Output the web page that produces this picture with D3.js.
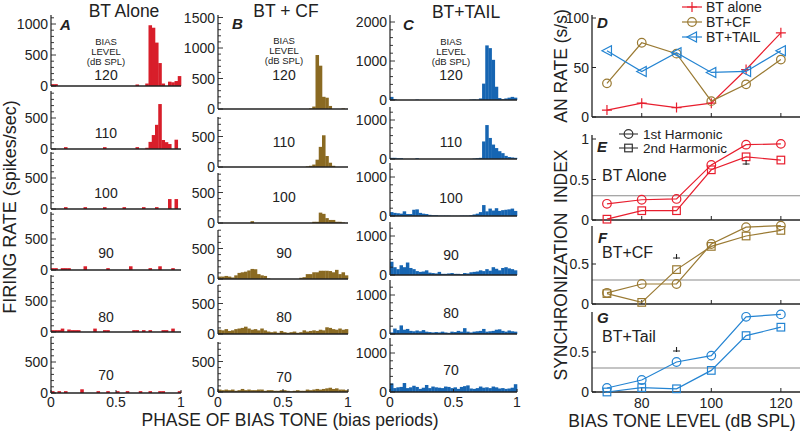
<!DOCTYPE html>
<html><head><meta charset="utf-8">
<script src="https://cdn.jsdelivr.net/npm/d3@7"></script>
<style>
body{margin:0;background:#fff}
svg{display:block}
text{font-family:"Liberation Sans",Arial,Helvetica,sans-serif;fill:#222}
</style>
</head><body>
<svg id="c" width="800" height="431"></svg>
<script>
// ---------------- DATA ----------------
const levels = [120, 110, 100, 90, 80, 70];
const phaseTicks = [0, 0.5, 1];
const phaseTickLabels = ["0", "0.5", "1"];

// Column A: BT alone (40 phase bins, spikes/sec)
const A120 = [30,30,0,0,0,0,0,0,0,0, 0,0,0,0,0,0,0,0,0,0, 0,0,0,0,0,0,25,0,0,40, 980,940,700,370,40,0,70,60,80,160];
const A110 = [0,0,0,0,30,0,0,0,0,0, 0,0,0,0,0,0,30,0,0,0, 0,0,0,0,0,0,30,0,0,20, 115,225,390,725,145,110,80,0,150,0];
const A100 = [0,0,0,0,30,0,0,0,0,0, 30,0,0,0,0,0,30,0,0,0, 0,0,30,0,0,0,0,0,30,0, 0,0,30,0,0,0,160,0,160,0];
const A90  = [30,30,0,30,30,30,0,0,0,0, 60,0,0,0,0,0,0,30,0,0, 0,0,0,0,60,0,0,0,0,0, 30,0,0,60,0,0,0,30,0,0];
const A80  = [30,30,30,55,0,40,30,30,30,0, 0,0,0,55,0,0,30,30,0,0, 0,0,0,0,0,30,30,0,30,0, 30,0,0,0,30,30,0,55,0,0];
const A70  = [30,0,30,0,30,0,0,0,0,60, 0,0,0,0,30,0,0,30,0,0, 30,0,0,30,0,0,0,30,0,0, 30,0,0,30,30,0,0,0,0,30];

// Column B: BT + CF
const B120 = [0,0,0,0,0,0,0,0,0,0, 0,0,0,0,0,0,0,0,0,0, 0,0,0,0,0,0,0,0,10,40, 885,710,200,185,50,0,0,0,10,0];
const B110 = [0,0,0,0,0,0,0,0,0,0, 0,0,0,0,0,0,0,0,0,0, 0,0,0,0,0,0,0,10,20,40, 120,330,520,180,70,20,0,0,0,0];
const B100 = [0,0,0,0,0,0,0,0,0,0, 30,0,0,0,0,0,0,0,0,0, 0,0,0,0,0,0,0,0,0,20, 20,170,150,80,50,50,20,20,10,0];
const B90  = [40,40,50,40,25,60,100,110,120,140, 165,160,80,60,50,10,0,0,0,0, 0,0,0,0,0,20,30,80,80,110, 110,135,135,135,130,110,150,80,110,60];
const B80  = [70,60,80,50,60,80,90,100,120,90, 70,80,60,90,60,40,30,40,20,50, 30,20,30,40,20,30,60,40,50,60, 50,70,60,110,100,80,70,90,70,80];
const B70  = [40,30,40,30,40,20,30,50,30,40, 30,30,40,40,20,30,30,20,20,30, 30,20,10,20,30,20,20,40,30,40, 50,40,50,60,70,50,60,40,40,30];

// Column C: BT + TAIL
const C120 = [80,20,0,0,0,0,0,0,10,0, 0,0,0,0,0,0,0,0,0,0, 0,0,0,0,0,10,15,10,40,420, 1400,1330,1030,340,50,20,40,60,80,60];
const C110 = [30,30,20,20,0,0,0,0,20,0, 0,0,0,0,0,0,0,0,0,0, 0,0,0,0,0,0,10,20,30,450, 870,540,370,280,200,150,80,50,40,30];
const C100 = [100,80,70,60,120,50,50,160,170,80, 60,50,30,20,20,10,10,10,10,5, 5,5,10,10,10,20,40,60,100,280, 120,190,140,200,130,150,160,170,190,130];
const C90  = [340,200,150,250,200,320,180,150,100,80, 90,120,60,50,40,80,30,30,40,50, 30,30,20,50,40,70,80,90,120,100, 150,110,200,160,120,180,200,170,150,120];
const C80  = [40,140,100,220,110,130,80,70,90,70, 100,60,50,40,50,40,60,40,30,60, 50,80,60,150,60,40,60,70,80,130, 60,70,80,110,120,80,60,90,70,60];
const C70  = [220,100,120,130,230,100,120,160,130,80, 110,180,100,140,120,110,100,140,130,100, 120,80,130,150,170,90,80,100,140,110, 120,100,140,120,90,100,80,90,110,200];

// Panel D: AN rate (s/s) vs bias tone level
const biasLevels = [70, 80, 90, 100, 110, 120];
const rateBTalone = [7, 14, 9.5, 14, 48, 85];
const rateBTCF    = [34, 75, 64, 16, 33, 58];
const rateBTTail  = [67, 46, 65, 45, 46, 67];

// Panels E-G: synchronization index
const syncE1 = [0.20, 0.25, 0.26, 0.68, 0.93, 0.94];
const syncE2 = [0.01, 0.115, 0.115, 0.62, 0.78, 0.74];
const syncF1 = [0.14, 0.25, 0.25, 0.75, 0.96, 0.98];
const syncF2 = [0.13, 0.02, 0.43, 0.72, 0.85, 0.92];
const syncG1 = [0.05, 0.15, 0.375, 0.455, 0.94, 0.97];
const syncG2 = [0.0, 0.055, 0.04, 0.27, 0.705, 0.81];
const syncThreshold = 0.3;

// ---------------- DRAW ----------------
const svg = d3.select("#c");
const AX = "#222";

const cols = [
  {x0:51, x1:181, k:31/500, minor:100, labels:[0,500,1000,1500],
   bases:[86,149,209,270,332,393], tops:[15,91,152,212,275,337],
   data:[A120,A110,A100,A90,A80,A70], color:"#d81e2a",
   title:"BT Alone", titleX:124, titleY:17, letter:"A", letterX:60, letterY:30,
   levelX:106, levelY:[80,138,198,258,322,380], biasY:[45,55,65]},
  {x0:218, x1:348, k:30.5/500, minor:100, labels:[0,500,1000,1500],
   bases:[109,167,223,279,334,392], tops:[15,117,173,230,285,342],
   data:[B120,B110,B100,B90,B80,B70], color:"#8a6a22",
   title:"BT + CF", titleX:286, titleY:17, letter:"B", letterX:232, letterY:29,
   levelX:284, levelY:[80,147,202,258,322,382], biasY:[44,54,64]},
  {x0:390, x1:517, k:39/1000, minor:200, labels:[0,1000,2000],
   bases:[100,159,216,275,334,392], tops:[15,107,163,222,280,338],
   data:[C120,C110,C100,C90,C80,C70], color:"#1665b2",
   title:"BT+TAIL", titleX:466, titleY:18, letter:"C", letterX:403, letterY:30,
   levelX:451, levelY:[80,147,203,260,318,375], biasY:[45,55,65]}
];

cols.forEach(col => {
  const x = d3.scaleLinear().domain([0,1]).range([col.x0, col.x1]);
  levels.forEach((lev, r) => {
    const b = col.bases[r], t = col.tops[r];
    const ymax = (b - t) / col.k;
    const y = d3.scaleLinear().domain([0, ymax]).range([b, t]);
    const vals = col.data[r];
    const n = vals.length;
    const g = svg.append("g");
    g.selectAll("rect").data(vals).join("rect")
      .attr("x", (d,i) => x(i/n))
      .attr("width", (d,i) => x((i+1)/n) - x(i/n) + 0.3)
      .attr("y", d => y(d))
      .attr("height", d => Math.max(0, y(0) - y(d)))
      .attr("fill", col.color);
    g.append("line").attr("x1", col.x0).attr("x2", col.x1)
      .attr("y1", b).attr("y2", b).attr("stroke", AX).attr("stroke-width", 1.3);
    g.append("line").attr("x1", col.x0).attr("x2", col.x0)
      .attr("y1", b).attr("y2", t).attr("stroke", AX).attr("stroke-width", 1.2);
    const tv = d3.range(0, ymax + 1e-6, col.minor);
    g.selectAll("line.tk").data(tv).join("line").attr("class","tk")
      .attr("x1", col.x0).attr("x2", d => col.x0 + (col.labels.includes(d) ? 5 : 3))
      .attr("y1", d => y(d)).attr("y2", d => y(d))
      .attr("stroke", AX).attr("stroke-width", 0.9);
    g.selectAll("text.tl").data(col.labels.filter(v => v <= ymax)).join("text").attr("class","tl")
      .attr("x", col.x0 - 3).attr("y", d => y(d)).attr("dy", "0.36em")
      .attr("text-anchor", "end").attr("font-size", 14).text(d => d);
    g.append("text").attr("x", col.levelX).attr("y", col.levelY[r])
      .attr("text-anchor", "middle").attr("font-size", 14).text(lev);
    if (r === levels.length - 1) {
      g.selectAll("line.xt").data(phaseTicks).join("line").attr("class","xt")
        .attr("x1", d => x(d)).attr("x2", d => x(d)).attr("y1", b).attr("y2", b - 3)
        .attr("stroke", AX);
      g.selectAll("text.xl").data(phaseTicks).join("text").attr("class","xl")
        .attr("x", d => x(d)).attr("y", 407).attr("text-anchor", "middle")
        .attr("font-size", 14).text((d,i) => phaseTickLabels[i]);
    }
  });
  svg.append("text").attr("x", col.titleX).attr("y", col.titleY)
    .attr("text-anchor", "middle").attr("font-size", 17.5).text(col.title);
  svg.append("text").attr("x", col.letterX).attr("y", col.letterY)
    .attr("font-size", 15).attr("font-weight", "bold").attr("font-style", "italic").text(col.letter);
  ["BIAS", "LEVEL", "(dB SPL)"].forEach((s, i) => {
    svg.append("text").attr("x", col.levelX).attr("y", col.biasY[i])
      .attr("text-anchor", "middle").attr("font-size", 9.5).attr("fill", "#333").text(s);
  });
});

svg.append("text").attr("transform", "translate(16,207) rotate(-90)")
  .attr("text-anchor", "middle").attr("font-size", 18).text("FIRING RATE (spikes/sec)");
svg.append("text").attr("x", 290).attr("y", 426)
  .attr("text-anchor", "middle").attr("font-size", 17.5).text("PHASE OF BIAS TONE (bias periods)");

// ---------------- RIGHT PANELS ----------------
const xR = d3.scaleLinear().domain([65.7, 125.5]).range([592, 800]);
const xTicksR = [80, 100, 120];
const RED = "#e81e2e", BROWN = "#9a7a33", BLUE = "#2484d2";

function marker(g, type, cx, cy, color) {
  if (type === "circle") {
    g.append("circle").attr("cx", cx).attr("cy", cy).attr("r", 4.3)
      .attr("fill", "none").attr("stroke", color).attr("stroke-width", 1.2);
  } else if (type === "square") {
    g.append("rect").attr("x", cx - 3.8).attr("y", cy - 3.8).attr("width", 7.6).attr("height", 7.6)
      .attr("fill", "none").attr("stroke", color).attr("stroke-width", 1.2);
  } else if (type === "tri") {
    g.append("path").attr("d", `M${cx-5},${cy} L${cx+4.5},${cy-5} L${cx+4.5},${cy+5} Z`)
      .attr("fill", "none").attr("stroke", color).attr("stroke-width", 1.2);
  } else if (type === "plus") {
    g.append("path").attr("d", `M${cx-5},${cy} H${cx+5} M${cx},${cy-5} V${cy+5}`)
      .attr("fill", "none").attr("stroke", color).attr("stroke-width", 1.2);
  }
}

function panel(cfg) {
  const y = d3.scaleLinear().domain([0, cfg.ymax]).range([cfg.b, cfg.b - cfg.ymax * cfg.k]);
  const g = svg.append("g");
  if (cfg.threshold !== undefined) {
    g.append("line").attr("x1", 592).attr("x2", 800).attr("y1", y(cfg.threshold)).attr("y2", y(cfg.threshold))
      .attr("stroke", "#8a8a8a").attr("stroke-width", 1.1);
  }
  g.append("line").attr("x1", 592).attr("x2", 800).attr("y1", cfg.b).attr("y2", cfg.b)
    .attr("stroke", AX).attr("stroke-width", 1.3);
  g.append("line").attr("x1", 592).attr("x2", 592).attr("y1", cfg.b).attr("y2", y(cfg.ymax))
    .attr("stroke", AX).attr("stroke-width", 1.3);
  g.selectAll("line.xt").data(xTicksR).join("line").attr("class","xt")
    .attr("x1", d => xR(d)).attr("x2", d => xR(d)).attr("y1", cfg.b).attr("y2", cfg.b - 4)
    .attr("stroke", AX);
  g.selectAll("line.yt").data(cfg.yticks).join("line").attr("class","yt")
    .attr("x1", 592).attr("x2", 596).attr("y1", d => y(d)).attr("y2", d => y(d)).attr("stroke", AX);
  g.selectAll("text.yl").data(cfg.yticks).join("text").attr("class","yl")
    .attr("x", 589).attr("y", d => y(d)).attr("dy", "0.36em").attr("text-anchor", "end")
    .attr("font-size", 14).text(d => d);
  cfg.series.forEach(s => {
    const line = d3.line().x((d,i) => xR(biasLevels[i])).y(d => y(d));
    g.append("path").attr("d", line(s.values)).attr("fill", "none")
      .attr("stroke", s.color).attr("stroke-width", 1.2);
    s.values.forEach((v, i) => marker(g, s.marker, xR(biasLevels[i]), y(v), s.color));
  });
  return {g, y};
}

panel({b:117, k:0.99, ymax:103, yticks:[0,50,100], series:[
  {values: rateBTalone, color: RED, marker: "plus"},
  {values: rateBTCF, color: BROWN, marker: "circle"},
  {values: rateBTTail, color: BLUE, marker: "tri"}
]});
panel({b:220, k:81, ymax:1.05, yticks:[0,0.5,1], threshold: syncThreshold, series:[
  {values: syncE1, color: RED, marker: "circle"},
  {values: syncE2, color: RED, marker: "square"}
]});
panel({b:304, k:80, ymax:0.975, yticks:[0,0.5], threshold: syncThreshold, series:[
  {values: syncF1, color: BROWN, marker: "circle"},
  {values: syncF2, color: BROWN, marker: "square"}
]});
panel({b:392, k:80, ymax:1.0, yticks:[0,0.5], threshold: syncThreshold, series:[
  {values: syncG1, color: BLUE, marker: "circle"},
  {values: syncG2, color: BLUE, marker: "square"}
]});

function sig(cx, cy) {
  svg.append("path").attr("d", `M${cx-3.5},${cy} H${cx+3.5} M${cx},${cy-4} V${cy+1}`)
    .attr("stroke", "#222").attr("stroke-width", 1.1).attr("fill", "none");
}
sig(xR(110), 164);
sig(xR(90), 258);
sig(xR(90), 351);

svg.selectAll("text.xr").data(xTicksR).join("text").attr("class","xr")
  .attr("x", d => xR(d)).attr("y", 408).attr("text-anchor", "middle").attr("font-size", 14).text(d => d);
svg.append("text").attr("x", 682).attr("y", 427).attr("text-anchor", "middle")
  .attr("font-size", 17.5).text("BIAS TONE LEVEL (dB SPL)");

[["D",597,28],["E",597,152],["F",598,243],["G",597,323]].forEach(([t,x,y]) => {
  svg.append("text").attr("x", x).attr("y", y).attr("font-size", 15)
    .attr("font-weight", "bold").attr("font-style", "italic").text(t);
});
[["BT Alone",602,181],["BT+CF",602,258],["BT+Tail",602,342]].forEach(([t,x,y]) => {
  svg.append("text").attr("x", x).attr("y", y).attr("font-size", 16).text(t);
});

svg.append("text").attr("transform", "translate(567,66) rotate(-90)")
  .attr("text-anchor", "middle").attr("font-size", 17.5).text("AN RATE (s/s)");
svg.append("text").attr("transform", "translate(567,265) rotate(-90)")
  .attr("text-anchor", "middle").attr("font-size", 17.5)
  .style("white-space","pre").text("SYNCHRONIZATION  INDEX");

const legD = [["BT alone", RED, "plus", 7], ["BT+CF", BROWN, "circle", 22], ["BT+TAIL", BLUE, "tri", 37]];
legD.forEach(([t, c, m, yy]) => {
  svg.append("line").attr("x1", 682).attr("x2", 702).attr("y1", yy).attr("y2", yy)
    .attr("stroke", c).attr("stroke-width", 1.2);
  marker(svg, m, 692, yy, c);
  svg.append("text").attr("x", 706).attr("y", yy + 4.5).attr("font-size", 14).text(t);
});
const legE = [["1st Harmonic", "circle", 134], ["2nd Harmonic", "square", 148]];
legE.forEach(([t, m, yy]) => {
  svg.append("line").attr("x1", 619).attr("x2", 638).attr("y1", yy).attr("y2", yy)
    .attr("stroke", "#333").attr("stroke-width", 1.1);
  marker(svg, m, 628.5, yy, "#333");
  svg.append("text").attr("x", 643).attr("y", yy + 4.5).attr("font-size", 13.5).text(t);
});
</script>
</body></html>
